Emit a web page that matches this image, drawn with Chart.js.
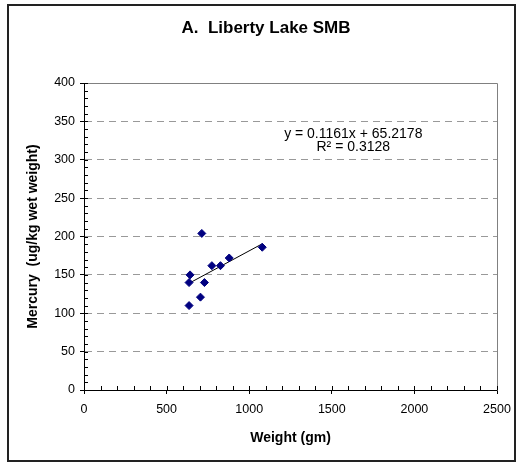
<!DOCTYPE html>
<html>
<head>
<meta charset="utf-8">
<script src="https://cdn.jsdelivr.net/npm/chart.js@4/dist/chart.umd.min.js"></script>
<style>
body { margin: 0; background: #fff; }
#grafica { position: absolute; left: 0; top: 0; }
#marco { position: absolute; left: 7px; top: 4px; width: 505px; height: 454px; border: 2px solid #222; pointer-events: none; }
</style>
</head>
<body>
<canvas id="grafica" width="522" height="464"></canvas>
<div id="marco"></div>
<script>
// peso (gm) y mercurio (ug/kg peso húmedo) de cada pez
var pesos = [636, 642, 705, 713, 729, 774, 826, 879, 1079, 636];
var mercurio = [140, 150, 121, 204, 140, 162, 162, 172, 186, 110];

// recta de tendencia lineal
var pendiente = 0.1161;
var intercepto = 65.2178;
var r2 = 0.3128;

var titulo = 'A.  Liberty Lake SMB';
var titulo_x = 'Weight (gm)';
var titulo_y = 'Mercury  (ug/kg wet weight)';

Chart.defaults.font.family = 'Arial, "Liberation Sans", sans-serif';
Chart.defaults.color = '#000';

function get_scatter_mercurio(){
    const ctx = document.getElementById('grafica');

    var puntos = []
    for (var i = 0; i < pesos.length; i++){
        puntos.push({x: pesos[i], y: mercurio[i]})
    }
    var x_min = Math.min.apply(null, pesos)
    var x_max = Math.max.apply(null, pesos)
    var tendencia = [
        {x: x_min, y: pendiente * x_min + intercepto},
        {x: x_max, y: pendiente * x_max + intercepto}
    ]

    // marco del área de trazado, marcas menores y ecuación
    var extras = {
        id: 'extras',
        beforeDatasetsDraw: function(chart){
            var c = chart.ctx
            var a = chart.chartArea
            var sx = chart.scales.x
            var sy = chart.scales.y
            c.save()
            c.lineWidth = 1
            c.strokeStyle = '#808080'
            c.beginPath()
            c.moveTo(Math.round(a.left) + 0.5, Math.round(a.top) + 0.5)
            c.lineTo(Math.round(a.right) + 0.5, Math.round(a.top) + 0.5)
            c.lineTo(Math.round(a.right) + 0.5, Math.round(a.bottom) + 0.5)
            c.stroke()

            c.strokeStyle = '#000'
            c.beginPath()
            for (var v = 0; v <= 2500; v += 100){
                var px = Math.round(sx.getPixelForValue(v)) + 0.5
                c.moveTo(px, a.bottom)
                c.lineTo(px, a.bottom - 4)
            }
            for (var v = 0; v <= 400; v += 10){
                var py = Math.round(sy.getPixelForValue(v)) + 0.5
                c.moveTo(a.left, py)
                c.lineTo(a.left + 4, py)
            }
            c.stroke()
            c.restore()
        },
        afterDatasetsDraw: function(chart){
            var c = chart.ctx
            var sx = chart.scales.x
            var sy = chart.scales.y
            c.save()
            c.font = '14px Arial, "Liberation Sans", sans-serif'
            c.fillStyle = '#000'
            c.textAlign = 'center'
            c.textBaseline = 'middle'
            c.fillText('y = ' + pendiente.toFixed(4) + 'x + ' + intercepto.toFixed(4), sx.getPixelForValue(1630), sy.getPixelForValue(333))
            c.fillText('R\u00b2 = ' + r2.toFixed(4), sx.getPixelForValue(1630), sy.getPixelForValue(316))
            c.restore()
        }
    }

    new Chart(ctx, {
        type: 'scatter',
        data: {
            datasets: [{
                label: 'Mercury',
                data: puntos,
                pointStyle: 'rectRot',
                pointRadius: 4,
                borderWidth: 1,
                backgroundColor: '#000080',
                borderColor: '#000080'
            },
            {
                type: 'line',
                label: 'Linear',
                data: tendencia,
                borderColor: '#000',
                borderWidth: 1,
                pointRadius: 0,
                fill: false
            }]
        },
        options: {
            responsive: false,
            animation: false,
            devicePixelRatio: 1,
            layout: { padding: { left: 35, right: 25, top: 0, bottom: 14 } },
            plugins: {
                legend: { display: false },
                tooltip: { enabled: false },
                title: {
                    display: true,
                    text: titulo,
                    color: '#000',
                    font: { size: 17, weight: 'bold' },
                    padding: { top: 17.8, bottom: 44.8 }
                }
            },
            scales: {
                x: {
                    type: 'linear',
                    min: 0,
                    max: 2500,
                    ticks: {
                        stepSize: 500, color: '#000', font: { size: 12.5 }, padding: 8, maxRotation: 0,
                        callback: function(v){ return String(v) }
                    },
                    grid: { drawOnChartArea: false, tickLength: 4, tickColor: '#000' },
                    border: { color: '#000', width: 1 },
                    title: { display: true, text: titulo_x, color: '#000', font: { size: 14, weight: 'bold' }, padding: { top: 0, bottom: 3.6 } },
                    afterFit: function(s){ s.height = 60 }
                },
                y: {
                    min: 0,
                    max: 400,
                    ticks: {
                        stepSize: 50, color: '#000', font: { size: 12.5 }, padding: 5,
                        callback: function(v){ return String(v) }
                    },
                    grid: {
                        color: function(c){
                            return (c.tick && c.tick.value > 0 && c.tick.value < 400) ? '#999' : 'rgba(0,0,0,0)'
                        },
                        tickLength: 4,
                        tickColor: '#000'
                    },
                    border: { color: '#000', width: 1, dash: [7, 5] },
                    title: { display: true, text: titulo_y, color: '#000', font: { size: 14, weight: 'bold' }, padding: { top: -10.4, bottom: 0 } },
                    afterFit: function(s){ s.width = 49 }
                }
            }
        },
        plugins: [extras]
    });
}

get_scatter_mercurio();
</script>
</body>
</html>
